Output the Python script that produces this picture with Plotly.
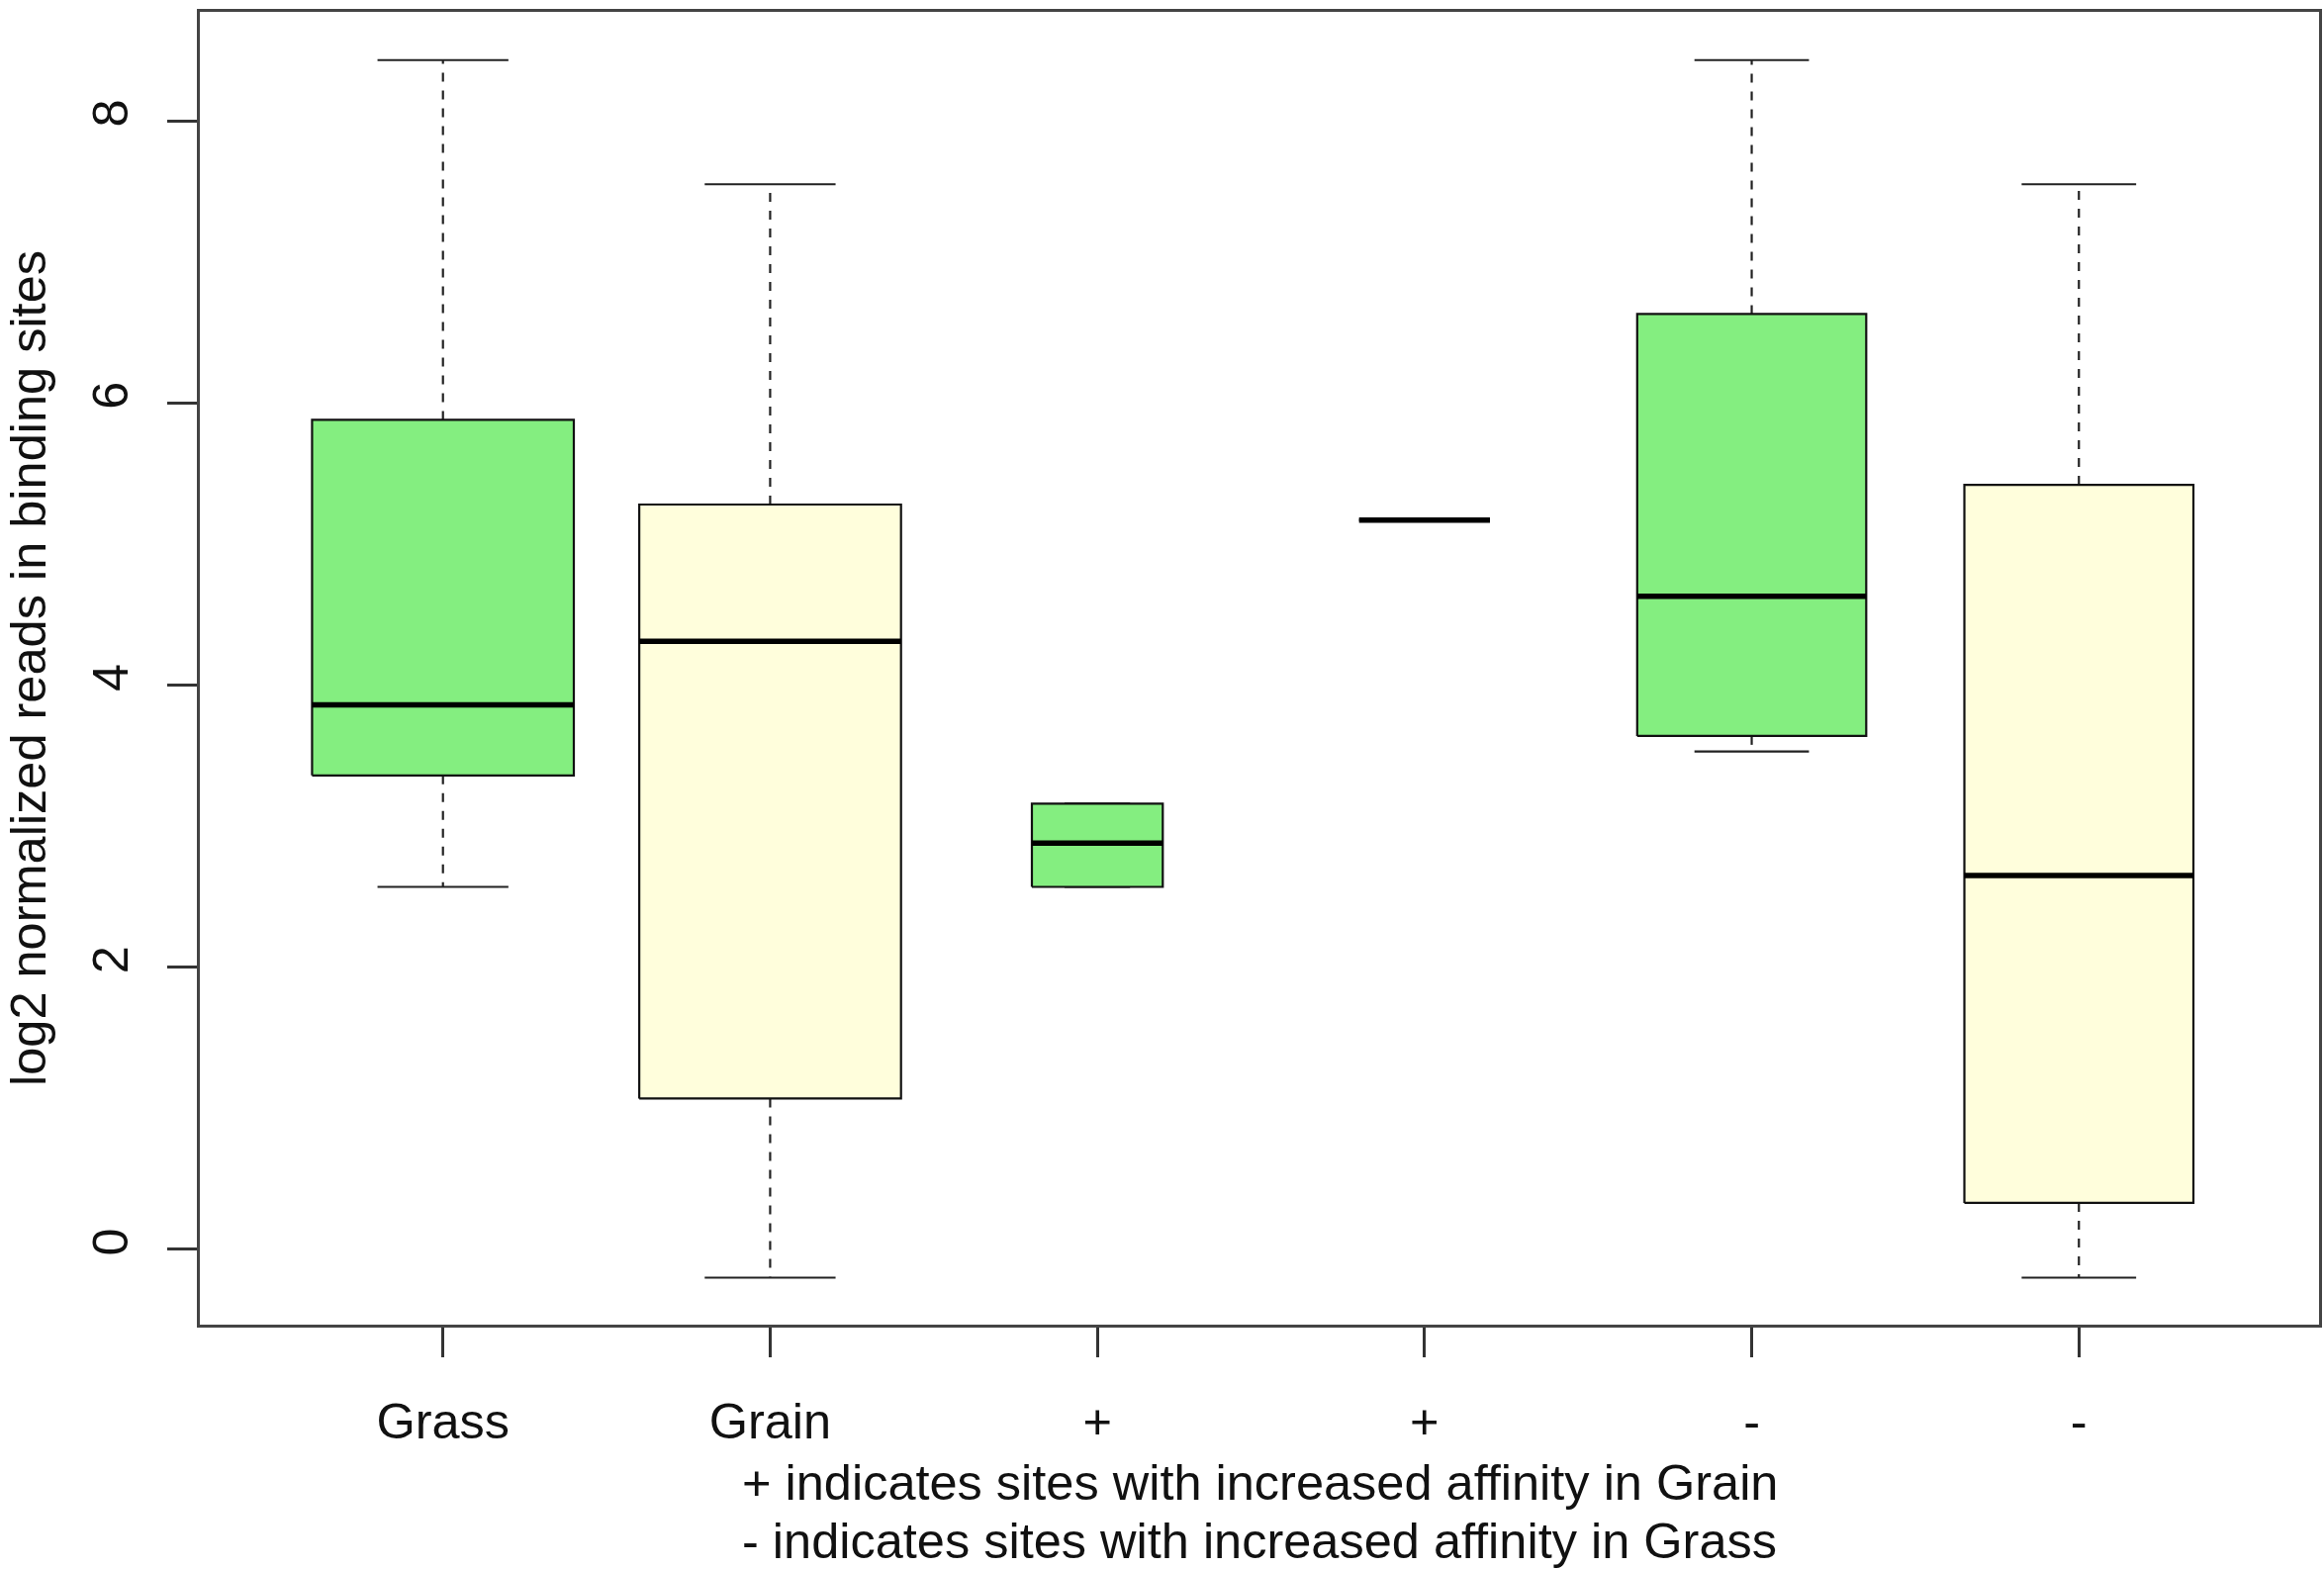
import plotly.graph_objects as go

# ---- data ----
labels = ["Grass", "Grain", "+", "+", "-", "-"]
positions = [1, 2, 3, 4, 5, 6]
lower_whisker = [2.57, -0.20, 2.57, 5.17, 3.53, -0.20]
q1 = [3.36, 1.07, 2.57, 5.17, 3.64, 0.33]
median = [3.86, 4.31, 2.88, 5.17, 4.63, 2.65]
q3 = [5.88, 5.28, 3.16, 5.17, 6.63, 5.42]
upper_whisker = [8.43, 7.55, 3.16, 5.17, 8.43, 7.55]
y_ticks = [0, 2, 4, 6, 8]
footnote = ["+ indicates sites with increased affinity in Grain",
            "- indicates sites with increased affinity in Grass"]
y_title = "log2 normalized reads in binding sites"

# ---- styles ----
box_widths = [0.8, 0.8, 0.4, 0.4, 0.7, 0.7]
GREEN = "#84EE80"
YELLOW = "#FFFEDC"
fills = [GREEN, YELLOW, GREEN, GREEN, GREEN, YELLOW]
FONT = "Liberation Sans, Arial, sans-serif"
FS = 50.5

fig = go.Figure()
for i, c in enumerate(positions):
    w = box_widths[i]
    # whiskers (dashed)
    for a, b in ((q3[i], upper_whisker[i]), (q1[i], lower_whisker[i])):
        fig.add_trace(go.Scatter(x=[c, c], y=[a, b], mode="lines",
                                 line=dict(color="#222", width=2.2, dash="9px,9px"),
                                 hoverinfo="skip", showlegend=False))
    # caps
    for v in (upper_whisker[i], lower_whisker[i]):
        fig.add_trace(go.Scatter(x=[c - w / 4, c + w / 4], y=[v, v], mode="lines",
                                 line=dict(color="#222", width=2.2),
                                 hoverinfo="skip", showlegend=False))
    # box
    fig.add_trace(go.Scatter(x=[c - w / 2, c + w / 2, c + w / 2, c - w / 2, c - w / 2],
                             y=[q1[i], q1[i], q3[i], q3[i], q1[i]],
                             mode="lines", fill="toself", fillcolor=fills[i],
                             line=dict(color="#111", width=2.2),
                             hoverinfo="skip", showlegend=False))
    # median
    fig.add_trace(go.Scatter(x=[c - w / 2, c + w / 2], y=[median[i], median[i]], mode="lines",
                             line=dict(color="#000", width=5.5),
                             hoverinfo="skip", showlegend=False))

fig.update_layout(
    width=2349, height=1586,
    margin=dict(l=202, r=2, t=12, b=247),
    paper_bgcolor="white", plot_bgcolor="white",
    font=dict(family=FONT, size=FS, color="#111"),
    xaxis=dict(range=[0.257, 6.734], tickmode="array", tickvals=positions, ticktext=labels,
               ticks="outside", ticklen=30, tickwidth=2.5, tickcolor="#333",
               showline=True, linecolor="#444", linewidth=2.5, mirror=True,
               showgrid=False, zeroline=False, ticklabelstandoff=22,
               tickfont=dict(size=FS, family=FONT, color="#111")),
    yaxis=dict(range=[-0.533, 8.772], tickmode="array", tickvals=y_ticks,
               ticktext=[str(t) for t in y_ticks],
               ticks="outside", ticklen=30, tickwidth=2.5, tickcolor="#333",
               showline=True, linecolor="#444", linewidth=2.5, mirror=True,
               showgrid=False, zeroline=False, tickangle=-90, ticklabelstandoff=20,
               tickfont=dict(size=FS, family=FONT, color="#111"),
               title=dict(text=y_title, font=dict(size=FS, family=FONT, color="#111"),
                          standoff=30)),
)

for k, (txt, ypx) in enumerate(zip(footnote, [1498, 1557])):
    fig.add_annotation(text=txt, xref="paper", yref="paper",
                       x=0.5, y=-(ypx - 1339) / 1327.0, xanchor="center", yanchor="middle",
                       showarrow=False, font=dict(size=FS, family=FONT, color="#111"))

fig.write_html("out.html")
